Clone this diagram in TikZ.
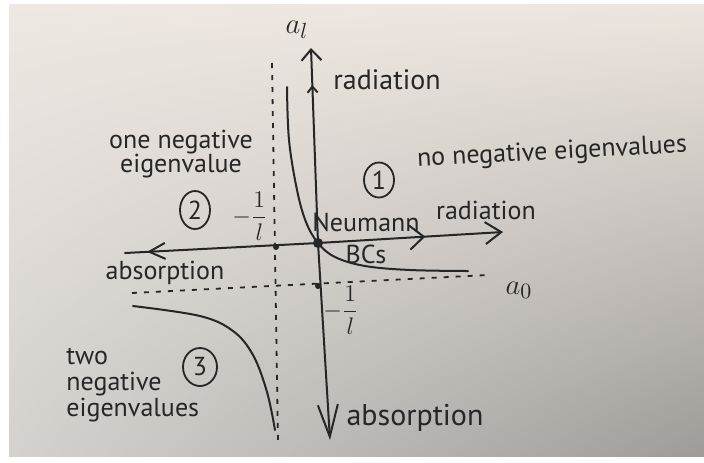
\documentclass[tikz,border=0pt]{standalone}
\usepackage{fontspec}
\setmainfont{PT Sans}
\usetikzlibrary{arrows.meta,decorations.markings,shapes.geometric,shadings}
\definecolor{inkc}{HTML}{262626}
\definecolor{paperA}{HTML}{EEE8E2}
\definecolor{paperB}{HTML}{EDE6DF}
\definecolor{paperC}{HTML}{D4D1CE}
\definecolor{paperD}{HTML}{9E9B98}
\tikzset{
  ink/.style={draw=inkc, line width=1pt, line cap=round, line join=round},
  dashln/.style={draw=inkc, line width=0.9pt, dash pattern=on 2.5pt off 3.5pt},
  lbl/.style={font=\fontsize{13}{14}\selectfont, text=inkc, inner sep=0pt, align=center},
  biglbl/.style={font=\fontsize{15}{16}\selectfont, text=inkc, inner sep=0pt},
  circnum/.style={ellipse, draw=inkc, line width=0.9pt, inner sep=0pt, text=inkc,
    font=\fontsize{13}{14}\selectfont},
  dotpt/.style={circle, fill=inkc, inner sep=0pt, minimum size=#1},
}
\begin{document}
\begin{tikzpicture}[x=0.5pt, y=-0.5pt]
\useasboundingbox (0,0) rectangle (704,462);
\fill[white] (0,0) rectangle (704,462);
\shade[upper left=paperA, upper right=paperB, lower left=paperC, lower right=paperD]
  (9,4) rectangle (704,456);

% axis coordinates
\coordinate (O) at (318,243);
\coordinate (ytop) at (311,48);
\coordinate (ybot) at (330,440);
\coordinate (xleft) at (125,253);
\coordinate (xright) at (503,232);
% dashed asymptotes
\coordinate (dvt) at (272,63);
\coordinate (dvb) at (278,442);
\coordinate (dhl) at (132,293);
\coordinate (dhr) at (488,275);

\draw[dashln] (dvt) -- (dvb);
\draw[dashln] (dhl) -- (dhr);

% vertical axis
\draw[ink, -{Straight Barb[length=5.5pt, width=10pt]},
  postaction={decorate},
  decoration={markings, mark=at position 0.81 with {\arrow{Straight Barb[length=3pt, width=5pt]}}}]
  (O) -- (ytop);
\draw[ink, -{Straight Barb[length=16pt, width=10pt]}] (O) -- (ybot);
% horizontal axis
\draw[ink, -{Straight Barb[length=8pt, width=11pt]},
  postaction={decorate},
  decoration={markings, mark=at position 0.58 with {\arrow{Straight Barb[length=7pt, width=12pt]}}}]
  (O) -- (xright);
\draw[ink, postaction={decorate},
  decoration={markings, mark=at position 0.886 with {\arrow{Straight Barb[length=8pt, width=8pt]}}}]
  (O) -- (xleft);

% hyperbola branches
\draw[ink] plot[smooth, tension=0.6] coordinates {(287,87) (289,140) (297,190) (306,222) (318,243) (335,257) (365,266) (410,270) (468,271)};
\draw[ink] plot[smooth, tension=0.6] coordinates {(133,306) (200,316) (233,331) (253,355) (267,392) (275,430)};

% dots
\node[dotpt=5pt] (dO) at (O) {};
\node[dotpt=3pt] (d1) at (276,247) {};
\node[dotpt=3pt] (d2) at (318,286) {};

% labels
\node[biglbl] (al) at (297,30) {$a_l$};
\node[biglbl] (a0) at (519,290) {$a_0$};
\node[lbl, font=\fontsize{14}{15}\selectfont] (radtop) at (387,80) {radiation};
\node[lbl, rotate=3] (noneg) at (552,153) {no negative eigenvalues};
\node[circnum, minimum width=15pt, minimum height=17.5pt] (c1) at (379,180) {1};
\node[lbl] (oneneg) at (181,154) {one negative\\[-2pt]eigenvalue};
\node[circnum, minimum width=15pt, minimum height=19pt] (c2) at (195,210) {2};
\node[lbl] (fr1) at (250,216) {$\displaystyle -\frac{1}{l}$};
\node[lbl] (neu) at (366,222) {Neumann};
\node[lbl] (bcs) at (366,254) {BCs};
\node[lbl] (radr) at (486,210) {radiation};
\node[lbl] (absl) at (165,273) {absorption};
\node[lbl] (fr2) at (341,310) {$\displaystyle -\frac{1}{l}$};
\node[lbl, align=left, anchor=north west] (twoneg) at (66,348) {two\\[-1pt]negative\\[-1pt]eigenvalues};
\node[circnum, minimum width=17pt, minimum height=19pt] (c3) at (200,367) {3};
\node[lbl, font=\fontsize{15}{16}\selectfont] (absb) at (415,418) {absorption};
\end{tikzpicture}
\end{document}
